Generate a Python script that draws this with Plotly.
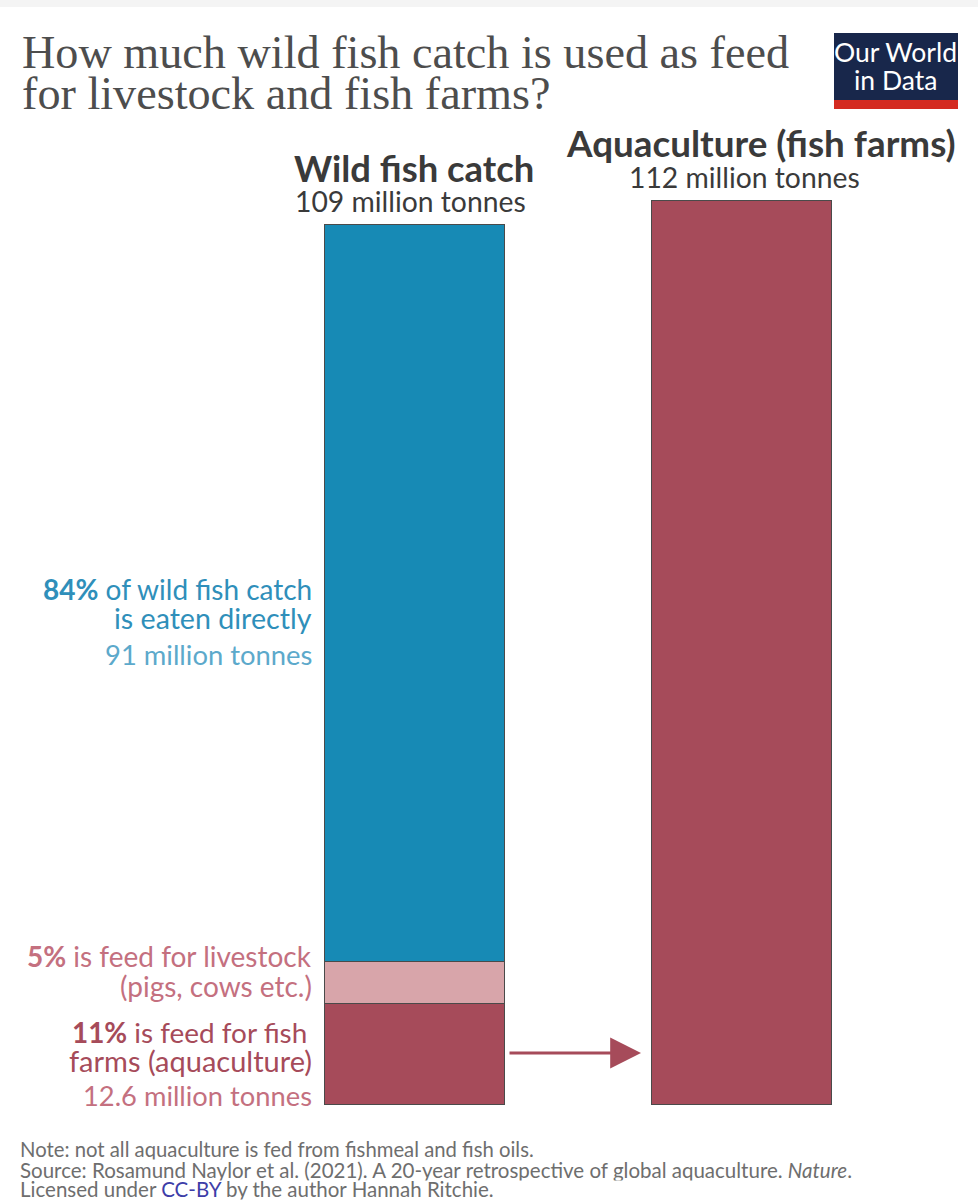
import plotly.graph_objects as go

categories = ["Wild fish catch", "Aquaculture (fish farms)"]
segment_names = ["Feed for fish farms", "Feed for livestock", "Eaten directly", "Aquaculture"]
fish_farm_feed = [12.4, None]
livestock_feed = [5.3, None]
eaten_directly = [91.3, None]
aquaculture = [None, 112]
colours = ["#A64B5A", "#D8A5AA", "#178AB5", "#A64B5A"]

W, H = 978, 1200
PX_PER_UNIT = 904 / 112
X0, X_STEP, Y0 = 414.5, 327, 1104.5
BAR_W = 180 / X_STEP

fig = go.Figure()
for name, vals, col in zip(segment_names, [fish_farm_feed, livestock_feed, eaten_directly, aquaculture], colours):
    fig.add_trace(go.Bar(x=categories, y=vals, name=name, width=BAR_W,
                         marker=dict(color=col, line=dict(color="#4a4a4a", width=1.2)),
                         showlegend=False, hoverinfo="name+y"))


def px(x):
    return x / W


def py(y):
    return 1 - y / H


def label(x, y, text, size, color, anchor="right", family="Lato", height=None):
    fig.add_annotation(x=px(x), y=py(y), xref="paper", yref="paper", text=text, showarrow=False,
                       xanchor=anchor, yanchor="middle", align=anchor, height=height,
                       font=dict(family=family, size=size, color=color),
                       borderpad=0, borderwidth=0)


DARK = "#3a3a3a"
SERIF = "Liberation Serif"
label(22, 52, "How much wild fish catch is used as feed", 46.2, "#4d4d4d", "left", SERIF)
label(22, 93, "for livestock and fish farms?", 46.2, "#4d4d4d", "left", SERIF)

label(414, 168, "<b>Wild fish catch</b>", 36.4, DARK, "center")
label(410, 201, "109 million tonnes", 28.3, DARK, "center")
label(761, 143, "<b>Aquaculture (fish farms)</b>", 36.8, DARK, "center")
label(744, 177, "112 million tonnes", 28.3, DARK, "center")

BLUE, BLUE_L = "#2F8FBA", "#5CA9CB"
label(312, 589, "<b>84%</b> of wild fish catch", 28, BLUE)
label(312, 618, "is eaten directly", 28.6, BLUE)
label(312, 654, "91 million tonnes", 27.4, BLUE_L)

PINK, RED, RED_L = "#C4707F", "#A64B5A", "#C4707F"
label(312, 956, "<b>5%</b> is feed for livestock", 28, PINK)
label(312, 986, "(pigs, cows etc.)", 28, PINK)
label(307, 1032, "<b>11%</b> is feed for fish", 27.9, RED)
label(312, 1060, "farms (aquaculture)", 29, RED)
label(312, 1095, "12.6 million tonnes", 27.3, RED_L)

GREY = "#6e6e6e"
label(20, 1149.5, "Note: not all aquaculture is fed from fishmeal and fish oils.", 20.3, GREY, "left", height=20.5)
label(20, 1170, "Source: Rosamund Naylor et al. (2021). A 20-year retrospective of global aquaculture. <i>Nature</i>.", 20.5, GREY, "left", height=20.5)
label(20, 1189.5, "Licensed under <span style='color:#3d3da8'>CC-BY</span> by the author Hannah Ritchie.", 20.5, GREY, "left", height=20.5)

label(895, 52, "Our World", 26.5, "#ffffff", "center")
label(895, 80, "in Data", 26.5, "#ffffff", "center")

fig.add_annotation(x=px(641), y=py(1053), ax=-133, ay=0, xref="paper", yref="paper",
                   axref="pixel", ayref="pixel", text="", showarrow=True, arrowhead=2,
                   arrowsize=2.2, arrowwidth=2.8, arrowcolor="#A64B5A")

shapes = [
    dict(type="rect", xref="paper", yref="paper", x0=0, x1=1, y0=py(7), y1=1, fillcolor="#f4f4f4", line_width=0, layer="below"),
    dict(type="rect", xref="paper", yref="paper", x0=px(834), x1=px(958), y0=py(100), y1=py(33), fillcolor="#18274B", line_width=0, layer="below"),
    dict(type="rect", xref="paper", yref="paper", x0=px(834), x1=px(958), y0=py(109), y1=py(100), fillcolor="#D42B21", line_width=0, layer="below"),
]

fig.update_layout(
    width=W, height=H, margin=dict(l=0, r=0, t=0, b=0), barmode="stack",
    paper_bgcolor="#ffffff", plot_bgcolor="#ffffff", shapes=shapes, showlegend=False,
    bargap=0,
    xaxis=dict(type="category", range=[-X0 / X_STEP, (W - X0) / X_STEP], visible=False, fixedrange=True),
    yaxis=dict(range=[-(H - Y0) / PX_PER_UNIT, Y0 / PX_PER_UNIT], visible=False, fixedrange=True),
)

fig.write_html("out.html", config=dict(displayModeBar=False),
               post_script="document.body.style.margin='0';")
